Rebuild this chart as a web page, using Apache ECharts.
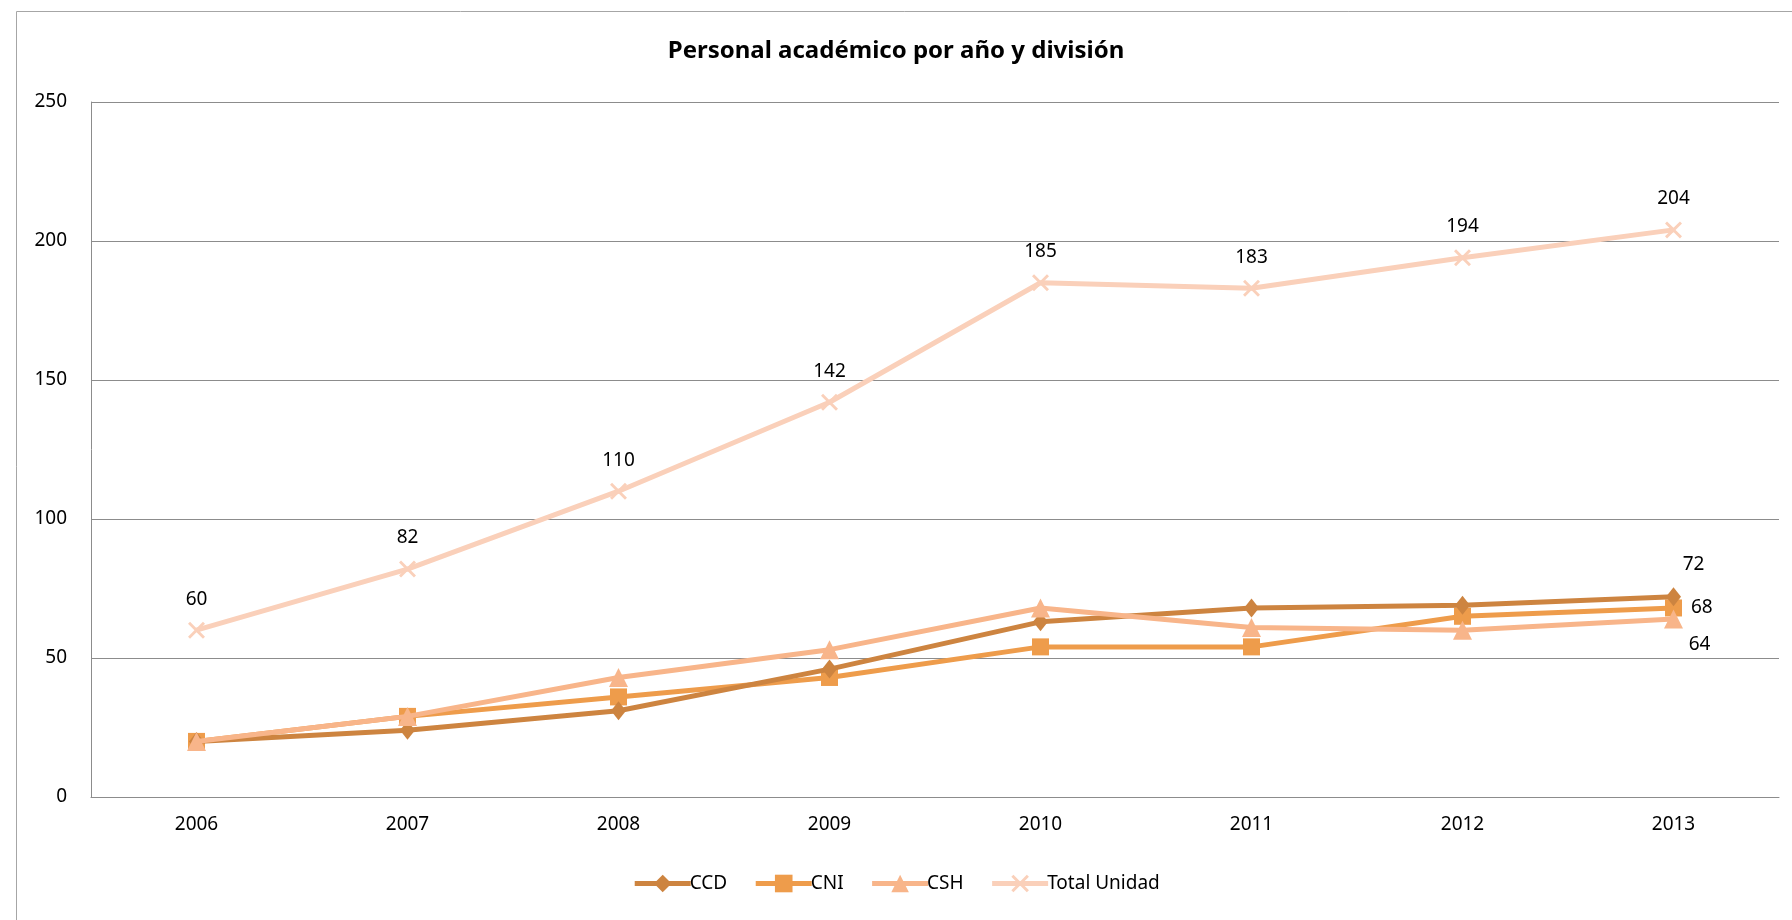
<!DOCTYPE html>
<html>
<head>
<meta charset="utf-8">
<script src="https://cdn.jsdelivr.net/npm/echarts@6/dist/echarts.min.js"></script>
<style>
html,body{margin:0;padding:0;background:#fff;}
#c{width:1792px;height:920px;}
</style>
</head>
<body>
<div id="c"></div>
<script>
const titleText = 'Personal académico por año y división';
const categories = ['2006','2007','2008','2009','2010','2011','2012','2013'];
const seriesNames = ['CCD','CNI','CSH','Total Unidad'];
const ccd = [20,24,31,46,63,68,69,72];
const cni = [20,29,36,43,54,54,65,68];
const csh = [20,29,43,53,68,61,60,64];
const total = [60,82,110,142,185,183,194,204];
const yTicks = [0,50,100,150,200,250];

const colors = ['#CD8440','#EE9C4B','#F8B58A','#FAD0BA'];
const font = '"Noto Sans", "Open Sans", sans-serif';
const xSym = 'path://M0,1.2L1.2,0L5,3.8L8.8,0L10,1.2L6.2,5L10,8.8L8.8,10L5,6.2L1.2,10L0,8.8L3.8,5Z';

function lastOnly(arr, pos, offset) {
  return arr.map((v, i) => i === arr.length - 1
    ? { value: v, label: { show: true, position: pos, offset: offset } }
    : v);
}

const chart = echarts.init(document.getElementById('c'), null, {renderer: 'canvas'});
chart.setOption({
  animation: false,
  backgroundColor: '#fff',
  color: colors,
  graphic: [{
    type: 'rect', left: 14, top: 9, z: -1,
    shape: {width: 1800, height: 1000},
    style: {fill: 'none', stroke: '#A6A6A6', lineWidth: 1}
  }],
  title: {
    text: titleText, left: 'center', top: 34,
    textStyle: {fontFamily: font, fontWeight: 'bold', fontSize: 24, color: '#000'}
  },
  legend: {
    bottom: 22, left: 'center', itemGap: 26, itemWidth: 56, itemHeight: 22,
    lineStyle: {width: 5},
    textStyle: {fontFamily: font, fontSize: 19, color: '#000', padding: [0,0,0,-6]},
    data: seriesNames
  },
  grid: {left: 91, right: 13, top: 102, bottom: 123},
  xAxis: {
    type: 'category', data: categories, boundaryGap: true,
    axisLine: {lineStyle: {color: '#8C8C8C', width: 1}},
    axisTick: {show: false},
    axisLabel: {fontFamily: font, fontSize: 19, color: '#000', margin: 18}
  },
  yAxis: {
    type: 'value', min: yTicks[0], max: yTicks[yTicks.length-1], interval: 50,
    axisLine: {show: true, lineStyle: {color: '#8C8C8C', width: 1}},
    axisTick: {show: false},
    splitLine: {lineStyle: {color: '#8C8C8C', width: 1}},
    axisLabel: {fontFamily: font, fontSize: 19, color: '#000', margin: 24, align: 'right'}
  },
  series: [
    {
      name: 'CCD', type: 'line', data: lastOnly(ccd, 'top', [20, -8]),
      symbol: 'diamond', symbolSize: [15, 19],
      lineStyle: {width: 5, color: colors[0]}, itemStyle: {color: colors[0]},
      label: {show: false, fontFamily: font, fontSize: 19, color: '#000'}, z: 4
    },
    {
      name: 'CNI', type: 'line', data: lastOnly(cni, 'right', [4, 0]),
      symbol: 'rect', symbolSize: 17,
      lineStyle: {width: 5, color: colors[1]}, itemStyle: {color: colors[1]},
      label: {show: false, fontFamily: font, fontSize: 19, color: '#000'}, z: 3
    },
    {
      name: 'CSH', type: 'line', data: lastOnly(csh, 'bottom', [26, 2]),
      symbol: 'triangle', symbolSize: 19,
      lineStyle: {width: 5, color: colors[2]}, itemStyle: {color: colors[2]},
      label: {show: false, fontFamily: font, fontSize: 19, color: '#000'}, z: 5
    },
    {
      name: 'Total Unidad', type: 'line', data: total,
      symbol: xSym, symbolSize: 17,
      lineStyle: {width: 5, color: colors[3]}, itemStyle: {color: colors[3]},
      label: {show: true, position: 'top', distance: 13, fontFamily: font, fontSize: 19, color: '#000'}, z: 2
    }
  ]
});
</script>
</body>
</html>
